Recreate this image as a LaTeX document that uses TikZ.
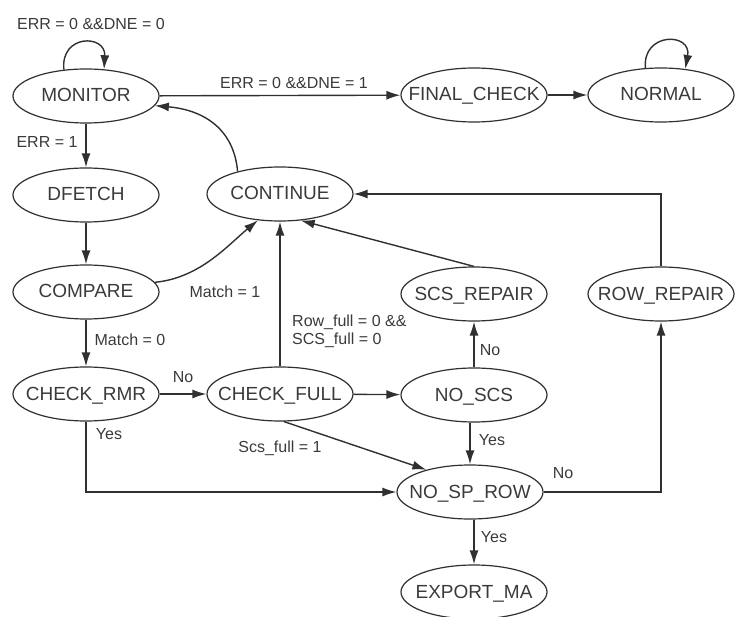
\documentclass[tikz,border=0pt]{standalone}
\usepackage{fontspec}
\setmainfont{Liberation Sans}
\usetikzlibrary{shapes.geometric,arrows.meta}
\definecolor{linegray}{HTML}{303030}
\definecolor{textgray}{HTML}{3A3A3A}

\begin{document}
\begin{tikzpicture}[x=1pt,y=1pt,
  state/.style={ellipse,draw=linegray,line width=1.2pt,minimum width=146pt,minimum height=54pt,
    inner sep=0pt,text=textgray,font=\fontsize{19}{21}\selectfont,text height=14pt,text depth=2pt,
    execute at begin node={\hbox to 0pt\bgroup\hss},execute at end node={\hss\egroup}},
  lbl/.style={text=textgray,font=\fontsize{16}{18}\selectfont,inner sep=0pt},
  tr/.style={draw=linegray,line width=1.4pt,-{Latex[length=14pt,width=9pt]}}]
\useasboundingbox (0,0) rectangle (735,-617);

  \node[state] (monitor) at (86,-96) {MONITOR};
  \node[state] (finalchk) at (474,-95) {FINAL\_CHECK};
  \node[state] (normal) at (661,-95) {NORMAL};
  \node[state] (dfetch) at (86,-195) {DFETCH};
  \node[state] (cont) at (280,-194) {CONTINUE};
  \node[state] (compare) at (86,-292) {COMPARE};
  \node[state] (scsrep) at (474,-294) {SCS\_REPAIR};
  \node[state] (rowrep) at (661,-294) {ROW\_REPAIR};
  \node[state] (chkrmr) at (86,-394) {CHECK\_RMR};
  \node[state] (chkfull) at (280,-394) {CHECK\_FULL};
  \node[state] (noscs) at (474,-395) {NO\_SCS};
  \node[state] (nosprow) at (470,-492) {NO\_SP\_ROW};
  \node[state] (export) at (474,-592) {EXPORT\_MA};

  % self loops
  \draw[tr] (monitor.130) .. controls (60,-34) and (106,-34) .. (monitor.56);
  \node[lbl] (lmon) at (91,-24) {ERR = 0 \&\&DNE = 0};
  \draw[tr] (normal.120) .. controls (642,-32) and (692,-32) .. (normal.47);

  \draw[tr] (monitor) -- (finalchk);
  \node[lbl] (lfin) at (294,-83) {ERR = 0 \&\&DNE = 1};
  \draw[tr] (finalchk) -- (normal);

  \draw[tr] (monitor) -- (dfetch);
  \node[lbl] (lerr) at (47,-142) {ERR = 1};
  \draw[tr] (dfetch) -- (compare);

  \draw[tr] (cont.152) .. controls (234,-130) and (205,-110) .. (monitor.-8);
  \draw[tr] (compare.8) .. controls (200,-278) and (228,-245) .. (cont.-130);
  \node[lbl] (lm1) at (225,-292) {Match = 1};

  \draw[tr] (compare) -- (chkrmr);
  \node[lbl] (lm0) at (130,-340) {Match = 0};

  \draw[tr] (chkrmr) -- (chkfull);
  \node[lbl] (lno1) at (183,-377) {No};
  \draw[tr] (chkrmr.south) |- (nosprow.west);
  \node[lbl] (lyes1) at (109,-434) {Yes};

  \draw[tr] (chkfull) -- (cont);
  \node[lbl,anchor=west,align=left] (lrow) at (292,-331) {Row\_full = 0 \&\&\\SCS\_full = 0};
  \draw[tr] (chkfull) -- (noscs);
  \draw[tr] (chkfull.-82) -- (nosprow.153);
  \node[lbl] (lscs) at (280,-448) {Scs\_full = 1};

  \draw[tr] (noscs) -- (scsrep);
  \node[lbl] (lno2) at (490,-350) {No};
  \draw[tr] (scsrep.north) -- (cont.-52);
  \draw[tr] (rowrep.north) |- (cont.east);

  \draw[tr] (noscs.south -| nosprow.north) -- (nosprow.north);
  \node[lbl] (lyes2) at (492,-440) {Yes};
  \draw[tr] (nosprow.east) -| (rowrep.south);
  \node[lbl] (lno3) at (563,-473) {No};
  \draw[tr] (nosprow.south -| export.north) -- (export.north);
  \node[lbl] (lyes3) at (494,-537) {Yes};
\end{tikzpicture}
\end{document}
